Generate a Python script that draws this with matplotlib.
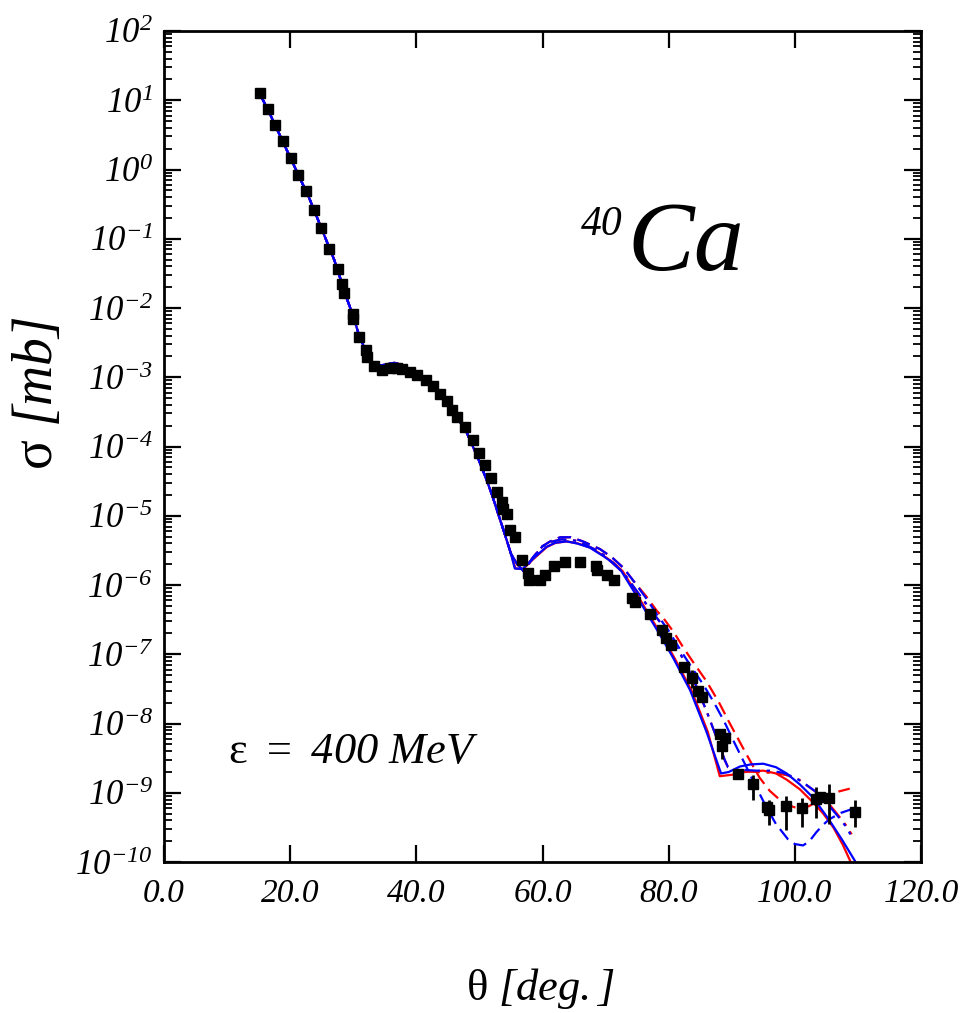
import matplotlib
matplotlib.use("Agg")
import matplotlib.pyplot as plt
from matplotlib.ticker import FixedLocator, FuncFormatter, LogLocator, NullFormatter
import numpy as np

# -- measured cross sections (theta in deg, log10 sigma in mb) --
data_theta = [15.2, 16.5, 17.6, 18.8, 20.1, 21.3, 22.5, 23.8, 24.9, 26.2, 27.5, 28.2, 28.6,
              29.9, 30.0, 30.9, 32.0, 32.2, 33.3, 34.6, 35.8, 36.9, 37.8, 39.0, 40.1, 41.5,
              42.6, 43.7, 44.9, 45.7, 46.5, 47.7, 48.9, 50.0, 50.9, 51.8, 52.8, 53.5, 53.8,
              54.4, 54.9, 55.6, 56.8, 57.7, 57.9, 59.6, 60.4, 61.8, 63.5, 66.0, 68.5, 68.7,
              70.2, 71.3, 74.2, 74.6, 77.0, 79.0, 79.6, 80.4, 82.5, 84.7, 85.3, 88.2, 88.9,
              95.6, 104.0]
data_log = [1.108, 0.877, 0.646, 0.415, 0.169, -0.077, -0.308, -0.582, -0.842, -1.146, -1.43,
            -1.647, -1.776, -2.08, -2.152, -2.42, -2.60, -2.71, -2.84, -2.90, -2.86, -2.865,
            -2.875, -2.923, -2.971, -3.043, -3.13, -3.236, -3.347, -3.467, -3.574, -3.718,
            -3.91, -4.094, -4.272, -4.45, -4.658, -4.802, -4.898, -4.97, -5.21, -5.31, -5.645,
            -5.83, -5.92, -5.93, -5.86, -5.73, -5.67, -5.67, -5.73, -5.79, -5.85, -5.93, -6.18,
            -6.24, -6.415, -6.656, -6.76, -6.87, -7.18, -7.53, -7.62, -8.15, -8.21, -9.20, -9.065]

# points with visible error bars
eb_theta = [83.7, 88.4, 91.0, 93.3, 95.9, 98.6, 101.2, 103.3, 105.4, 109.5]
eb_log = [-7.34, -8.32, -8.73, -8.88, -9.25, -9.185, -9.22, -9.09, -9.07, -9.27]
eb_log_lo = [-7.48, -8.51, -8.80, -9.11, -9.46, -9.53, -9.49, -9.36, -9.45, -9.50]
eb_log_hi = [-7.23, -8.22, -8.66, -8.74, -9.11, -9.04, -9.07, -8.91, -8.88, -9.11]

# -- calculations: common forward part --
th_common = [15, 17, 19, 21, 23, 25, 27, 29, 30, 31, 32, 33, 34, 35, 36.5, 38, 40, 42, 44,
             46, 48, 50, 51, 52, 53, 54, 55]
lg_common = [1.13, 0.76, 0.37, -0.02, -0.41, -0.86, -1.31, -1.87, -2.12, -2.42, -2.62, -2.78,
             -2.83, -2.82, -2.79, -2.83, -2.95, -3.08, -3.27, -3.51, -3.80, -4.22, -4.45,
             -4.70, -4.98, -5.26, -5.55]

# solid curves
th_blue_solid = [55.6, 56.8, 58.5, 60.6, 62.0, 63.8, 65.5, 67.5, 69.6, 71.2, 72.5, 74.4, 76.5,
                 78.5, 80.7, 83.4, 86.0, 88.3, 89.5, 91.3, 93.0, 95.0, 97.0, 98.7, 100.8,
                 102.9, 105.5, 107.5, 109.5]
lg_blue_solid = [-5.76, -5.77, -5.62, -5.45, -5.39, -5.37, -5.40, -5.46, -5.58, -5.68, -5.80,
                 -6.08, -6.40, -6.70, -7.05, -7.52, -8.12, -8.72, -8.70, -8.62, -8.59, -8.58,
                 -8.63, -8.72, -8.88, -9.07, -9.40, -9.68, -9.98]
th_red_solid = [55.7, 56.9, 58.6, 60.7, 62.1, 63.9, 65.6, 67.6, 69.7, 71.3, 72.7, 74.6, 76.7,
                78.7, 80.9, 83.6, 86.2, 88.1, 90.0, 92.0, 95.0, 97.0, 98.7, 100.8, 102.9,
                104.5, 106.1, 107.6, 109.0]
lg_red_solid = [-5.76, -5.77, -5.62, -5.45, -5.39, -5.37, -5.40, -5.46, -5.58, -5.68, -5.80,
                -6.08, -6.40, -6.70, -7.05, -7.52, -8.12, -8.76, -8.74, -8.70, -8.68, -8.72,
                -8.81, -8.95, -9.14, -9.30, -9.50, -9.75, -10.03]

# dashed curves
th_red_dash = [56.0, 57.0, 58.5, 60.0, 61.2, 62.8, 64.5, 66.4, 69.1, 71.0, 72.8, 74.5, 76.5,
               78.1, 79.1, 80.8, 82.3, 84.0, 86.0, 88.0, 89.7, 91.0, 92.3, 93.4, 94.4, 96.0,
               97.6, 98.7, 100.0, 101.3, 102.3, 103.2, 104.4, 105.5, 107.0, 108.7]
lg_red_dash = [-5.70, -5.80, -5.60, -5.44, -5.37, -5.31, -5.31, -5.37, -5.48, -5.60, -5.75,
               -5.95, -6.17, -6.37, -6.47, -6.68, -6.90, -7.13, -7.39, -7.70, -8.00, -8.22,
               -8.44, -8.62, -8.78, -8.97, -9.10, -9.17, -9.21, -9.22, -9.19, -9.14, -9.08,
               -9.03, -8.98, -8.94]
th_blue_dash = [56.0, 57.0, 58.5, 60.0, 61.2, 62.8, 64.5, 66.4, 69.1, 71.0, 72.8, 74.5, 76.5,
                78.1, 80.0, 81.8, 83.5, 85.5, 87.2, 88.8, 90.0, 91.3, 92.5, 93.5, 94.5, 95.5,
                97.0, 98.9, 100.0, 101.3, 102.3, 103.4, 104.5, 105.5, 107.3, 109.2]
lg_blue_dash = [-5.70, -5.80, -5.60, -5.44, -5.37, -5.31, -5.31, -5.37, -5.48, -5.60, -5.75,
                -5.95, -6.20, -6.42, -6.66, -6.93, -7.17, -7.44, -7.70, -7.97, -8.20, -8.44,
                -8.66, -8.85, -9.03, -9.21, -9.45, -9.67, -9.74, -9.76, -9.70, -9.57, -9.46,
                -9.38, -9.29, -9.23]

# dash-dot curves
th_blue_dd = [56.0, 57.0, 58.5, 60.0, 61.2, 63.0, 65.4, 69.1, 72.8, 76.0, 79.0, 82.0, 84.0,
              86.0, 87.5, 88.9, 89.4, 90.5, 92.0, 93.9, 96.0, 98.1, 100.0, 101.3, 103.4,
              104.8, 106.1, 107.2, 108.2, 108.8]
lg_blue_dd = [-5.70, -5.80, -5.60, -5.44, -5.38, -5.34, -5.36, -5.52, -5.82, -6.22, -6.58,
              -7.02, -7.38, -7.82, -8.18, -8.53, -8.63, -8.66, -8.67, -8.68, -8.68, -8.71,
              -8.78, -8.85, -8.99, -9.12, -9.26, -9.38, -9.50, -9.60]
th_red_dd = [56.0, 57.0, 58.5, 60.0, 61.2, 63.0, 65.4, 69.1, 72.8, 76.0, 79.0, 82.0, 84.0,
             86.0, 87.5, 88.9, 89.4, 90.5, 92.0, 93.9, 96.0, 98.5, 100.5, 102.0, 104.0,
             105.5, 107.1, 108.2, 109.0]
lg_red_dd = [-5.70, -5.80, -5.60, -5.44, -5.38, -5.34, -5.36, -5.52, -5.82, -6.22, -6.58,
             -7.02, -7.38, -7.82, -8.18, -8.53, -8.63, -8.66, -8.68, -8.70, -8.71, -8.74,
             -8.80, -8.90, -9.03, -9.17, -9.35, -9.48, -9.60]

x_ticks = [0, 20, 40, 60, 80, 100, 120]
y_decades = list(range(-10, 3))

plt.rcParams['font.family'] = ['Liberation Serif', 'DejaVu Serif']
plt.rcParams['mathtext.fontset'] = 'custom'
# math "rm" is italic here so that digits come out slanted like the original;
# upright greek letters are taken from the sf slot
plt.rcParams['mathtext.rm'] = 'Liberation Serif:italic'
plt.rcParams['mathtext.it'] = 'Liberation Serif:italic'
plt.rcParams['mathtext.sf'] = 'Liberation Serif'
plt.rcParams['mathtext.bf'] = 'Liberation Serif:bold'

fig = plt.figure(figsize=(9.61, 10.13), dpi=100)
ax = fig.add_axes([0.1707, 0.149, 0.7877, 0.8204])


def curve(th, lg):
    return np.array(th_common + th), 10.0 ** np.array(lg_common + lg)


styles = [
    (th_red_dd, lg_red_dd, 'red', (0, (7, 3, 1.5, 3))),
    (th_red_dash, lg_red_dash, 'red', (0, (6, 3))),
    (th_red_solid, lg_red_solid, 'red', '-'),
    (th_blue_dd, lg_blue_dd, 'blue', (0, (7, 3, 1.5, 3))),
    (th_blue_dash, lg_blue_dash, 'blue', (0, (6, 3))),
    (th_blue_solid, lg_blue_solid, 'blue', '-'),
]
for th, lg, col, ls in styles:
    x, y = curve(th, lg)
    ax.plot(x, y, color=col, ls=ls, lw=1.6)

ax.plot(data_theta, 10.0 ** np.array(data_log), 's', color='black', ms=6.5, zorder=5)
eb_val = 10.0 ** np.array(eb_log)
yerr = [eb_val - 10.0 ** np.array(eb_log_lo), 10.0 ** np.array(eb_log_hi) - eb_val]
ax.errorbar(eb_theta, eb_val, yerr=yerr, fmt='s', color='black', ms=6.5, elinewidth=2,
            capsize=0, zorder=5)

ax.set_yscale('log')
ax.set_xlim(0, 120)
ax.set_ylim(1e-10, 1e2)
ax.xaxis.set_major_locator(FixedLocator(x_ticks))
ax.xaxis.set_major_formatter(FuncFormatter(lambda v, p: '%.1f' % v))
ax.yaxis.set_major_locator(FixedLocator([10.0 ** d for d in y_decades]))
ax.yaxis.set_major_formatter(FuncFormatter(lambda v, p: r'$10^{%d}$' % round(np.log10(v))))
ax.yaxis.set_minor_locator(LogLocator(base=10, subs=np.arange(2, 10), numticks=200))
ax.yaxis.set_minor_formatter(NullFormatter())

ax.tick_params(which='both', direction='in', top=True, right=True)
ax.tick_params(which='major', length=12, width=1.6)
ax.tick_params(which='minor', length=6, width=1.3)
ax.tick_params(axis='x', labelsize=24, pad=12)
ax.tick_params(axis='y', labelsize=25, pad=8)
for lbl in ax.get_xticklabels():
    lbl.set_fontstyle('italic')
for sp in ax.spines.values():
    sp.set_linewidth(2)

fig.text(0.562, 0.013, r'$\mathsf{\theta}\ [deg.]$', fontsize=32, ha='center', va='baseline')
fig.text(0.040, 0.612, r'$\mathsf{\sigma}\ [mb]$', fontsize=40, rotation=90,
         ha='center', va='center')
ax.text(0.085, 0.119, r'$\mathsf{\varepsilon}\ =\ 400\ MeV$', transform=ax.transAxes,
        fontsize=32, va='baseline')
ax.text(0.606, 0.754, '40', transform=ax.transAxes, fontsize=30, style='italic',
        ha='right', va='baseline')
ax.text(0.612, 0.713, 'Ca', transform=ax.transAxes, fontsize=72, style='italic', va='baseline')

fig.savefig('out.png', dpi=100)
